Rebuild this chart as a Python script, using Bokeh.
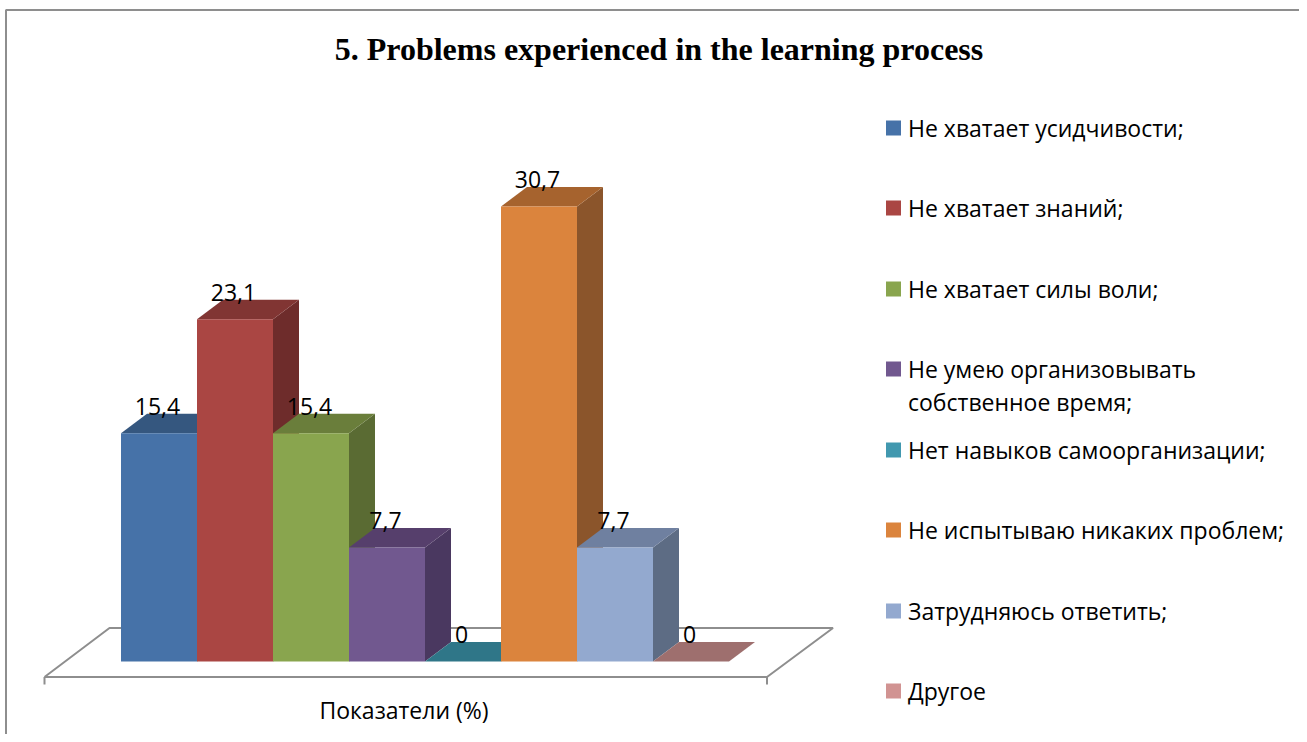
from bokeh.plotting import figure
from bokeh.models import Range1d
from bokeh.embed import file_html
from bokeh.resources import INLINE
from bokeh.core.properties import value

title = "5. Problems experienced in the learning process"
axis_label = "Показатели (%)"
categories = ["Не хватает усидчивости;", "Не хватает знаний;", "Не хватает силы воли;",
              "Не умею организовывать\nсобственное время;", "Нет навыков самоорганизации;",
              "Не испытываю никаких проблем;", "Затрудняюсь ответить;", "Другое"]
values = [15.4, 23.1, 15.4, 7.7, 0, 30.7, 7.7, 0]
labels = ["15,4", "23,1", "15,4", "7,7", "0", "30,7", "7,7", "0"]
front = ["#4672A8", "#AA4643", "#89A54E", "#71588F", "#4198AF", "#DB843D", "#93A9CF", "#D19392"]
top = ["#35577F", "#813533", "#6A7E3B", "#563F6C", "#2F7688", "#A6632E", "#6F80A0", "#9E6F6E"]
side = ["#2E4C6F", "#6E2C2B", "#5A6B33", "#4A3860", "#296675", "#8B552B", "#5D6C84", "#876060"]

# scale: one category = 76 px, one percent = 14.82 px
PX_CAT, PX_VAL = 76.0, 14.82
X0, Y0 = 120.5, 661.0
W, H = 1299, 734
DX, DY = 26 / PX_CAT, 19.5 / PX_VAL
def X(px): return (px - X0) / PX_CAT
def Y(px): return (Y0 - px) / PX_VAL

p = figure(width=W, height=H, output_backend="svg", toolbar_location=None,
           x_range=Range1d(X(0), X(W)), y_range=Range1d(Y(H), Y(0)),
           min_border=0, outline_line_color=None, x_axis_type=None, y_axis_type=None)
p.grid.visible = False

GREY = "#8E8E8E"
# chart frame (top and left edges)
p.line([X(5.5), X(5.5)], [Y(H), Y(9.5)], line_color=GREY, line_width=2)
p.line([X(5), X(W)], [Y(9.5), Y(9.5)], line_color=GREY, line_width=2)

# floor of the 3D box
fx = [X(44), X(109), X(832.5), X(766.5), X(44)]
fy = [Y(676.5), Y(627.5), Y(627.5), Y(676.5), Y(676.5)]
p.line(fx, fy, line_color=GREY, line_width=2)
for t in (44, 766.5):
    p.line([X(t), X(t)], [Y(676.5), Y(684)], line_color=GREY, line_width=2)

# 3D columns
for i, v in enumerate(values):
    l, r = float(i), float(i + 1)
    if v > 0:
        p.patch([r, r + DX, r + DX, r], [0, DY, v + DY, v], fill_color=side[i], line_color=None)
    p.patch([l, l + DX, r + DX, r], [v, v + DY, v + DY, v], fill_color=top[i], line_color=None)
    if v > 0:
        p.quad(left=l, right=r, bottom=0, top=v, fill_color=front[i], line_color=None)

# data labels
p.text([i + 0.5 for i in range(8)], [v + DY for v in values], text=labels, x_offset=-1.5, y_offset=-7.5,
       text_font=value("Open Sans"), text_font_size="23px", text_color="#000000",
       text_align="center", text_baseline="alphabetic")

# title and axis label
p.text([X(658.5)], [Y(59.5)], text=[title], y_offset=-11, text_font=value("Liberation Serif"),
       text_font_style="bold", text_font_size="32px", text_color="#000000",
       text_align="center", text_baseline="alphabetic")
p.text([X(403.5)], [Y(717.5)], text=[axis_label], y_offset=-8, text_font=value("Open Sans"),
       text_font_size="23px", text_color="#000000", text_align="center", text_baseline="alphabetic")

# legend
rows = [135, 215, 296, 376, 457, 537, 618, 698]
for i, c in enumerate(categories):
    yb = rows[i]
    p.quad(left=X(885.5), right=X(900.5), bottom=Y(yb), top=Y(yb - 15),
           fill_color=front[i], line_color=None)
    for j, line in enumerate(c.split("\n")):
        p.text([X(907.5)], [Y(yb + j * 33)], text=[line], y_offset=-7.5, text_font=value("Open Sans"),
               text_font_size="23px", text_color="#000000", text_align="left",
               text_baseline="alphabetic")

open("out.html", "w").write(file_html(p, INLINE))
